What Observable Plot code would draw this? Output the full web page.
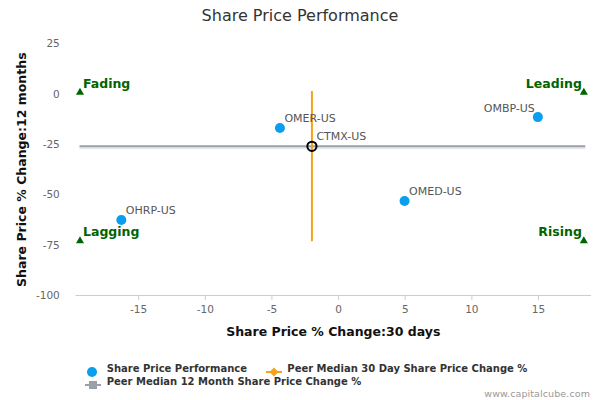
<!DOCTYPE html>
<html>
<head>
<meta charset="utf-8">
<script src="https://cdn.jsdelivr.net/npm/d3@7"></script>
<script src="https://cdn.jsdelivr.net/npm/@observablehq/plot@0.6"></script>
<style>
  body { margin: 0; background: #fff; }
  #wrap { position: relative; width: 600px; height: 400px; font-family: "DejaVu Sans", sans-serif; overflow: hidden; }
  #title { position: absolute; left: 0; top: 0; width: 600px; height: 32px; line-height: 32px; text-align: center; font-size: 16px; color: #333; }
  #plot { position: absolute; left: 0; top: 30px; }
  .lg { position: absolute; font-size: 10px; font-weight: bold; color: #333; white-space: nowrap; line-height: 12px; }
  .sym { position: absolute; }
  #credit { position: absolute; right: 10px; top: 388px; font-size: 9.5px; color: #999; line-height: 12px; letter-spacing: 0.1px; }
</style>
</head>
<body>
<div id="wrap">
  <div id="title"></div>
  <div id="plot"></div>
  <div id="legend"></div>
  <div id="credit"></div>
</div>
<script>
// ---- data ----
const titleText = "Share Price Performance";
const xTitle = "Share Price % Change:30 days";
const yTitle = "Share Price % Change:12 months";
const peerNames = ["OMER-US", "OMBP-US", "OMED-US", "OHRP-US"];
const peer30 = [-4.4, 14.95, 4.95, -16.3];
const peer12 = [-16.8, -11.4, -53.1, -62.5];
const subjectName = "CTMX-US";
const subject30 = -2.0;
const subject12 = -25.9;
const median30 = -2.0;
const median12 = -25.9;
const quadNames = ["Fading", "Leading", "Lagging", "Rising"];
const quadX = [-19.4, 18.4, -19.4, 18.4];
const quadY = [0.8, 0.8, -72.9, -72.9];
const xTicks = [-15, -10, -5, 0, 5, 10, 15];
const yTicks = [25, 0, -25, -50, -75, -100];
const xDomain = [-19.7, 18.9];
const yDomain = [-100, 25];
const legendLabels = ["Share Price Performance", "Peer Median 30 Day Share Price Change %", "Peer Median 12 Month Share Price Change %"];
const creditText = "www.capitalcube.com";

// ---- derived tables ----
const peers = peerNames.map((n, i) => ({name: n, x: peer30[i], y: peer12[i]}));
const subject = [{name: subjectName, x: subject30, y: subject12}];
const allPts = peers.concat(subject);
const quads = quadNames.map((n, i) => ({name: n, x: quadX[i], y: quadY[i]}));
const qxMin = d3.min(quadX), qxMax = d3.max(quadX) + 0.15;
const qyMin = d3.min(quadY) - 0.4, qyMax = d3.max(quadY) + 0.5;

const green = "#006400";
const blue = "#0a9fee";
const orange = "#f7a21b";
const gray = "#9aa0aa";

const chart = Plot.plot({
  width: 600,
  height: 325,
  marginTop: 13.3,
  marginBottom: 60,
  marginLeft: 75.5,
  marginRight: 10,
  style: {fontFamily: "DejaVu Sans, sans-serif", fontSize: "10.5px", background: "#fff"},
  x: {domain: xDomain},
  y: {domain: yDomain},
  marks: [
    Plot.frame({anchor: "bottom", stroke: "#c0d0e0"}),
    Plot.axisX({ticks: xTicks, tickSize: 5, tickPadding: 5, stroke: "#c0d0e0", color: "#666", label: null, tickFormat: d => String(d)}),
    Plot.axisY({ticks: yTicks, tickSize: 0, tickPadding: 16.2, color: "#666", label: null, tickFormat: d => String(d)}),
    Plot.text([xTitle], {frameAnchor: "bottom", dy: 36, lineAnchor: "middle", text: d => d, fontWeight: "bold", fontSize: 12.5, fill: "#111"}),
    Plot.text([yTitle], {frameAnchor: "left", dx: -54.5, rotate: -90, lineAnchor: "middle", textAnchor: "middle", text: d => d, fontWeight: "bold", fontSize: 12.5, fill: "#111"}),
    Plot.ruleY([median12], {x1: qxMin, x2: qxMax, stroke: "#e6e8ec", strokeWidth: 2, dy: 2}),
    Plot.ruleY([median12], {x1: qxMin, x2: qxMax, stroke: gray, strokeWidth: 2}),
    Plot.ruleX([median30], {y1: qyMin, y2: qyMax, stroke: orange, strokeWidth: 2}),
    Plot.dot(quads, {x: "x", y: "y", symbol: "triangle", r: 3, fill: green}),
    Plot.text(quads.filter(d => d.x < 0), {x: "x", y: "y", text: "name", textAnchor: "start", lineAnchor: "bottom", dx: 3, dy: -4.5, fill: green, fontWeight: "bold", fontSize: 12.5}),
    Plot.text(quads.filter(d => d.x > 0), {x: "x", y: "y", text: "name", textAnchor: "end", lineAnchor: "bottom", dx: -2, dy: -4.5, fill: green, fontWeight: "bold", fontSize: 12.5}),
    Plot.dot(peers, {x: "x", y: "y", r: 5, fill: blue}),
    Plot.dot(subject, {x: "x", y: "y", r: 4.6, fill: "none", stroke: "#000", strokeWidth: 2}),
    Plot.text(allPts.filter(d => d.x < 10), {x: "x", y: "y", text: "name", textAnchor: "start", lineAnchor: "bottom", dx: 4.5, dy: -6.3, fill: "#555", fontSize: 11}),
    Plot.text(allPts.filter(d => d.x >= 10), {x: "x", y: "y", text: "name", textAnchor: "end", lineAnchor: "bottom", dx: -3, dy: -5, fill: "#555", fontSize: 11})
  ]
});
document.getElementById("plot").appendChild(chart);
document.getElementById("title").textContent = titleText;
document.getElementById("credit").textContent = creditText;

// ---- legend (below the svg) ----
const legend = document.getElementById("legend");
function addText(txt, left, cy) {
  const d = document.createElement("div");
  d.className = "lg";
  d.style.left = left + "px";
  d.style.top = (cy - 6) + "px";
  d.textContent = txt;
  legend.appendChild(d);
}
function addSym(svgInner, left, cy, w) {
  const d = document.createElement("div");
  d.className = "sym";
  d.style.left = left + "px";
  d.style.top = (cy - 6) + "px";
  d.innerHTML = `<svg width="${w}" height="12" viewBox="0 0 ${w} 12">${svgInner}</svg>`;
  legend.appendChild(d);
}
addSym(`<circle cx="6" cy="6" r="5" fill="${blue}"/>`, 85.7, 369, 12);
addText(legendLabels[0], 106.7, 369);
addSym(`<line x1="0" y1="6" x2="16" y2="6" stroke="${orange}" stroke-width="2"/><path d="M8 1.5 L12.5 6 L8 10.5 L3.5 6 Z" fill="${orange}"/>`, 266, 369, 16);
addText(legendLabels[1], 287.3, 369);
addSym(`<line x1="0" y1="6" x2="16" y2="6" stroke="${gray}" stroke-width="2"/><rect x="4" y="2" width="8" height="8" fill="${gray}"/>`, 85, 381.7, 16);
addText(legendLabels[2], 106.7, 381.7);
</script>
</body>
</html>
